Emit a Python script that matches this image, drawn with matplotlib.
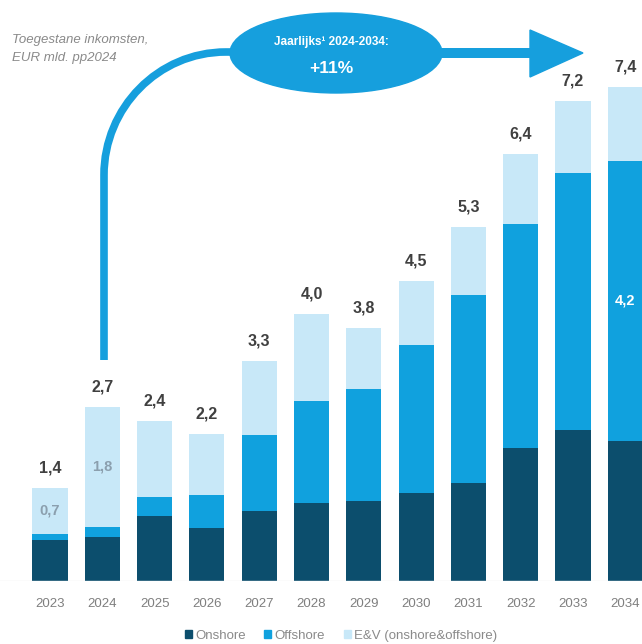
import matplotlib
matplotlib.use("Agg")
import matplotlib.pyplot as plt
from matplotlib.patches import Ellipse, Polygon, Rectangle, PathPatch
from matplotlib.path import Path
import numpy as np

plt.rcParams['font.family'] = ['Liberation Sans', 'DejaVu Sans']

years = ['2023', '2024', '2025', '2026', '2027', '2028', '2029', '2030', '2031', '2032', '2033', '2034']
onshore = [0.62, 0.66, 0.97, 0.79, 1.05, 1.17, 1.20, 1.32, 1.47, 2.00, 2.26, 2.10]
offshore = [0.08, 0.15, 0.29, 0.50, 1.14, 1.53, 1.68, 2.22, 2.82, 3.35, 3.86, 4.20]
ev = [0.70, 1.80, 1.14, 0.91, 1.11, 1.30, 0.92, 0.96, 1.01, 1.05, 1.08, 1.10]
totals = ['1,4', '2,7', '2,4', '2,2', '3,3', '4,0', '3,8', '4,5', '5,3', '6,4', '7,2', '7,4']
inner_labels = [(0, 'ev', '0,7'), (1, 'ev', '1,8'), (11, 'off', '4,2')]

c_on = '#0c4e6d'
c_off = '#10a1de'
c_ev = '#c8e8f8'
c_arrow = '#169fdd'

W, H = 642, 644
fig = plt.figure(figsize=(W / 100, H / 100), dpi=100)

base_px = 581
px_per_unit = 66.7
x0_px = 50
dx_px = 52.3

ax = fig.add_axes([0, 1 - base_px / H, 1, base_px / H])
ax.set_xlim(-x0_px / dx_px, (W - x0_px) / dx_px)
ax.set_ylim(0, base_px / px_per_unit)

x = np.arange(len(years))
on = np.array(onshore)
off = np.array(offshore)
e = np.array(ev)
bw = 0.67
ax.bar(x, on, bw, color=c_on, label='Onshore')
ax.bar(x, off, bw, bottom=on, color=c_off, label='Offshore')
ax.bar(x, e, bw, bottom=on + off, color=c_ev, label='E&V (onshore&offshore)')
ax.axhline(0, color='#ececec', lw=1)

tops = on + off + e
for i, t in enumerate(totals):
    ax.annotate(t, (x[i], tops[i]), xytext=(0, 9), textcoords='offset points',
                ha='center', va='bottom', fontsize=11.5, fontweight='bold', color='#404040')

for i, seg, lab in inner_labels:
    if seg == 'ev':
        yc = on[i] + off[i] + e[i] / 2
        col = '#8b9fae'
    else:
        yc = on[i] + off[i] / 2
        col = 'white'
    ax.text(x[i], yc, lab, ha='center', va='center', fontsize=10.5, fontweight='bold', color=col)

ax.set_xticks(x)
ax.set_xticklabels(years, fontsize=9.5, color='#7f7f7f')
ax.tick_params(axis='x', length=0, pad=12)
ax.set_yticks([])
for s in ax.spines.values():
    s.set_visible(False)
ax.patch.set_alpha(0)

# overlay in pixel coords
ov = fig.add_axes([0, 0, 1, 1])
ov.set_xlim(0, W)
ov.set_ylim(H, 0)
ov.axis('off')
ov.patch.set_alpha(0)

verts = [(104, 360), (104, 175), (104, 108), (158, 52), (226, 52), (260, 52)]
codes = [Path.MOVETO, Path.LINETO, Path.CURVE4, Path.CURVE4, Path.CURVE4, Path.LINETO]
ov.add_patch(PathPatch(Path(verts, codes), fill=False, lw=5.5, edgecolor=c_arrow, capstyle='butt'))
ov.plot([420, 535], [53, 53], color=c_arrow, lw=7.2, solid_capstyle='butt')
ov.add_patch(Polygon([(530, 30), (583, 53), (530, 77)], closed=True, color=c_arrow))
ov.add_patch(Ellipse((336, 53), 212, 80, color=c_arrow))
ov.text(331, 42, 'Jaarlijks\u00b9 2024-2034:', ha='center', va='center', fontsize=8.5,
        fontweight='bold', color='white')
ov.text(331, 68, '+11%', ha='center', va='center', fontsize=12.5, fontweight='bold', color='white')

ov.text(12, 40, 'Toegestane inkomsten,', ha='left', va='center', fontsize=9.5,
        style='italic', color='#8a8a8a')
ov.text(12, 58, 'EUR mld. pp2024', ha='left', va='center', fontsize=9.5,
        style='italic', color='#8a8a8a')

handles = [Rectangle((0, 0), 1, 1, color=c) for c in (c_on, c_off, c_ev)]
fig.legend(handles, ['Onshore', 'Offshore', 'E&V (onshore&offshore)'],
           loc='center', bbox_to_anchor=(341 / W, 1 - 636 / H), ncol=3, frameon=False,
           fontsize=9.5, handlelength=0.55, handleheight=0.55, handletextpad=0.25,
           columnspacing=1.4, labelcolor='#8a8a8a')

fig.savefig('out.png', dpi=100)
